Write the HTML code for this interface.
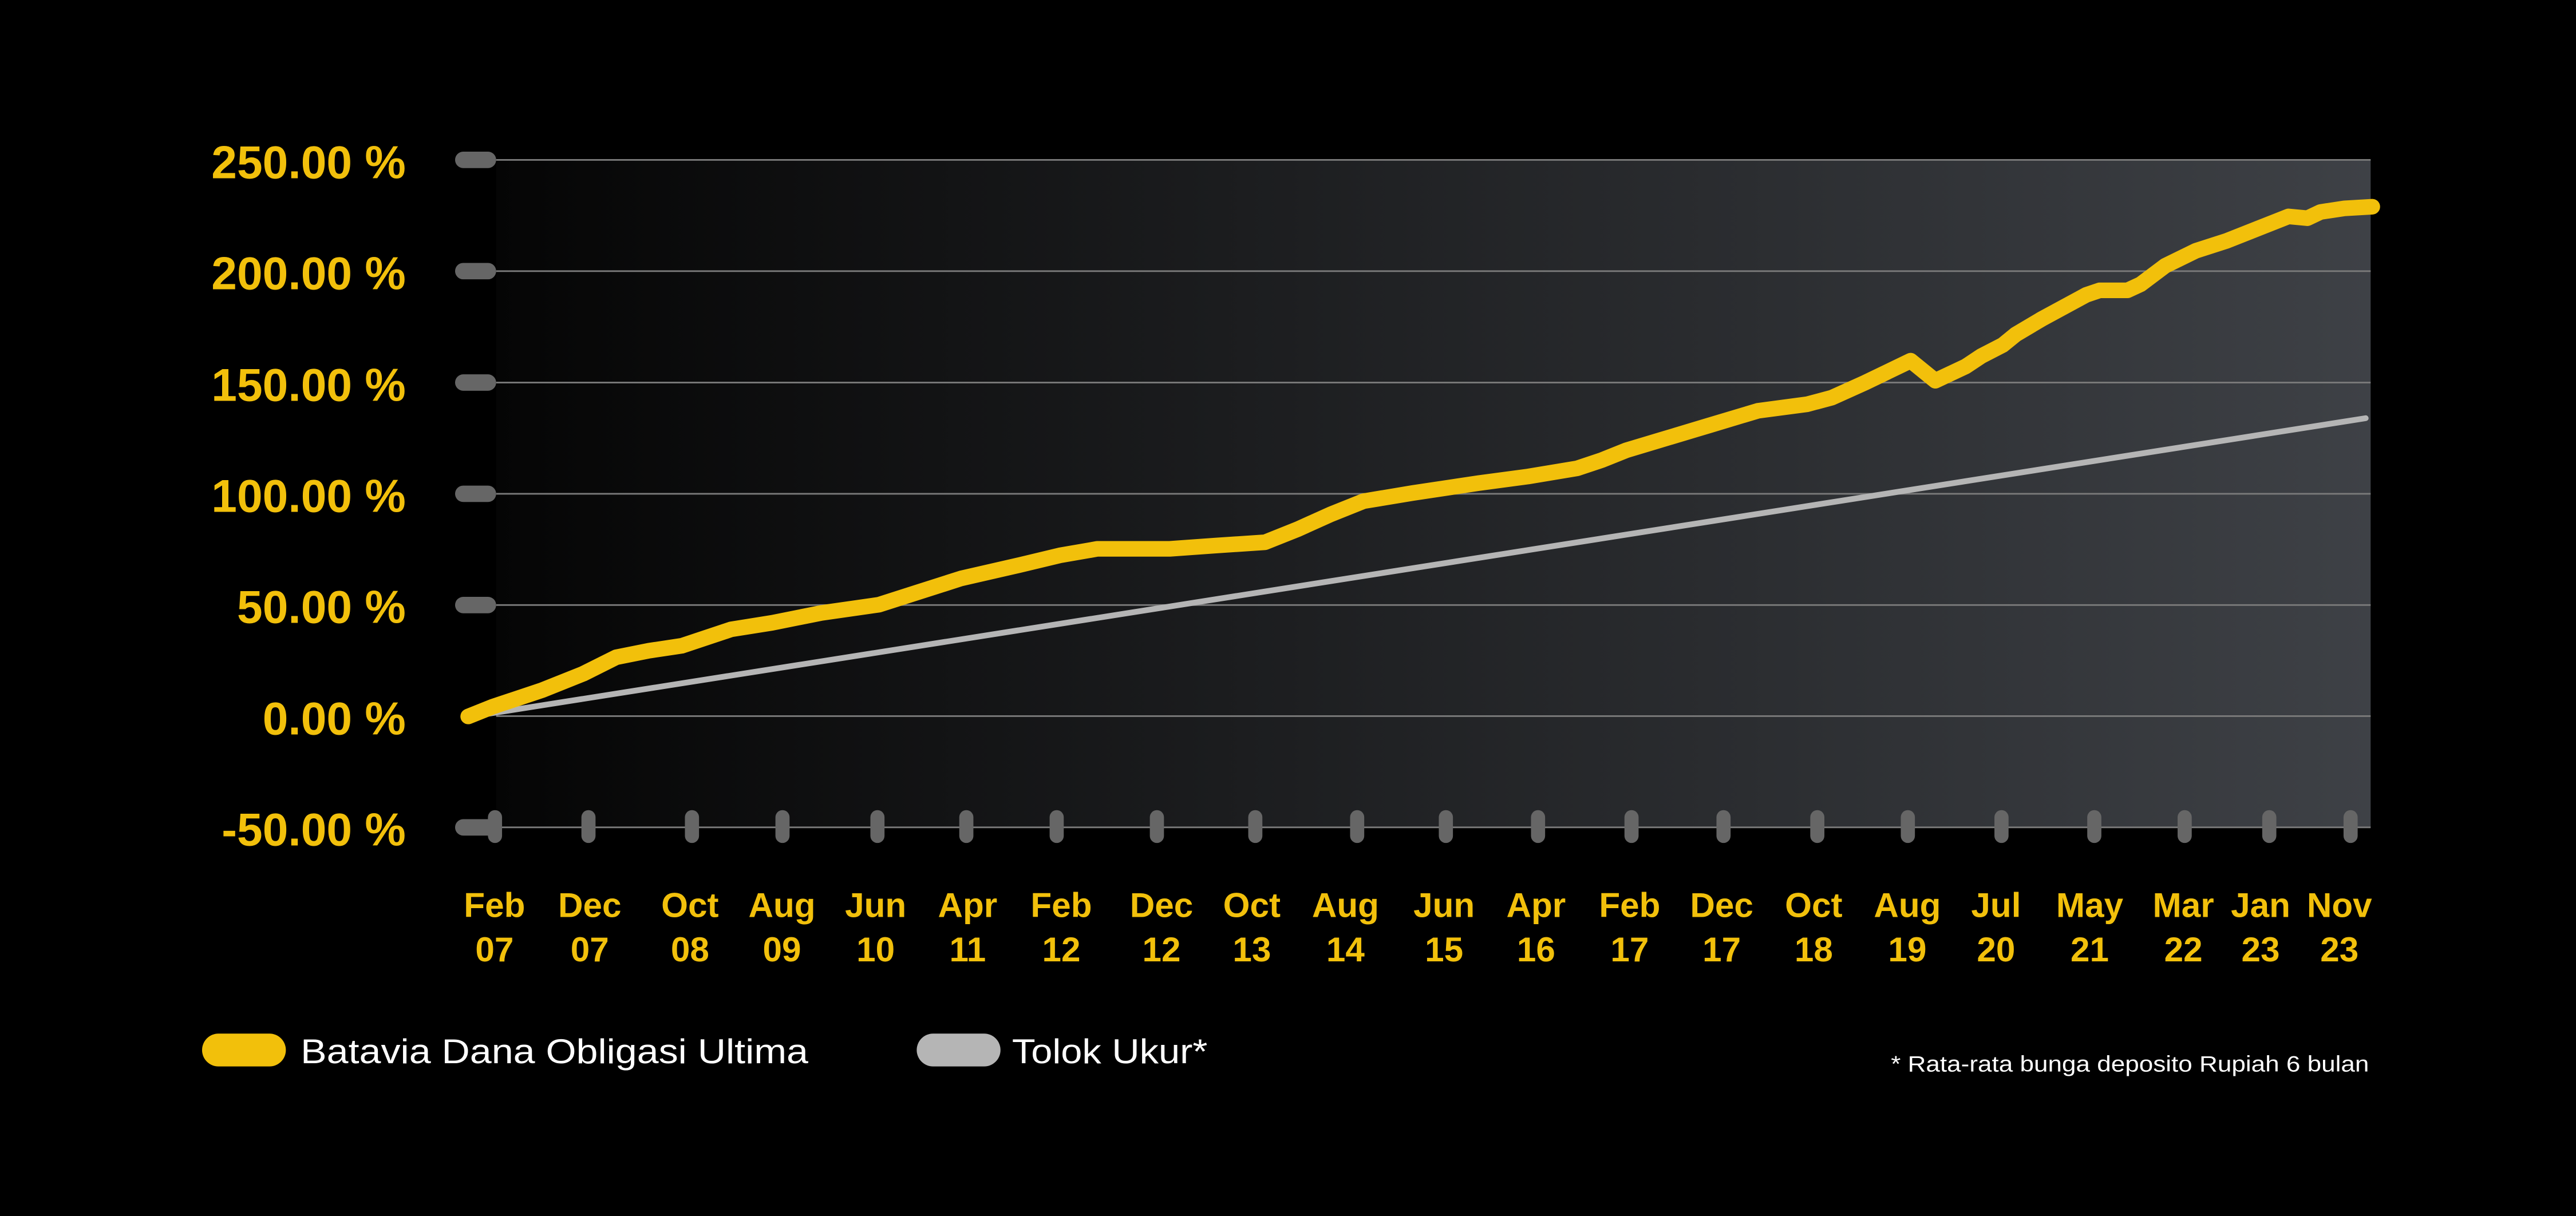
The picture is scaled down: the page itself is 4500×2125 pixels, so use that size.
<!DOCTYPE html>
<html><head><meta charset="utf-8"><style>
html,body{margin:0;padding:0;background:#000;}
svg{display:block;}
text{font-family:"Liberation Sans",sans-serif;}
</style></head><body>
<svg width="4500" height="2125" viewBox="0 0 1568 740" preserveAspectRatio="none" xmlns="http://www.w3.org/2000/svg">
<defs>
<linearGradient id="bg" x1="0" y1="0" x2="1" y2="0">
<stop offset="0" stop-color="#050505"/>
<stop offset="1" stop-color="#3e4146"/>
</linearGradient>
</defs>
<rect width="1568" height="740" fill="#000"/>
<rect x="302" y="97" width="1141" height="406.5" fill="url(#bg)"/>
<g stroke="#7a7a7a" stroke-width="1">
<line x1="302" y1="97.3" x2="1443" y2="97.3"/>
<line x1="302" y1="165" x2="1443" y2="165"/>
<line x1="302" y1="232.8" x2="1443" y2="232.8"/>
<line x1="302" y1="300.5" x2="1443" y2="300.5"/>
<line x1="302" y1="368.2" x2="1443" y2="368.2"/>
<line x1="302" y1="435.8" x2="1443" y2="435.8"/>
<line x1="302" y1="503.5" x2="1443" y2="503.5"/>
</g>
<g fill="#666">
<rect x="277" y="92.3" width="25" height="10" rx="5"/>
<rect x="277" y="160" width="25" height="10" rx="5"/>
<rect x="277" y="227.8" width="25" height="10" rx="5"/>
<rect x="277" y="295.5" width="25" height="10" rx="5"/>
<rect x="277" y="363.2" width="25" height="10" rx="5"/>
<rect x="277" y="498.5" width="25" height="10" rx="5"/>
</g>
<g fill="#666">
<rect x="297" y="493" width="8.6" height="20" rx="4.3"/>
<rect x="353.9" y="493" width="8.6" height="20" rx="4.3"/>
<rect x="416.9" y="493" width="8.6" height="20" rx="4.3"/>
<rect x="472" y="493" width="8.6" height="20" rx="4.3"/>
<rect x="529.8" y="493" width="8.6" height="20" rx="4.3"/>
<rect x="583.9" y="493" width="8.6" height="20" rx="4.3"/>
<rect x="638.9" y="493" width="8.6" height="20" rx="4.3"/>
<rect x="699.9" y="493" width="8.6" height="20" rx="4.3"/>
<rect x="759.8" y="493" width="8.6" height="20" rx="4.3"/>
<rect x="821.8" y="493" width="8.6" height="20" rx="4.3"/>
<rect x="875.8" y="493" width="8.6" height="20" rx="4.3"/>
<rect x="931.9" y="493" width="8.6" height="20" rx="4.3"/>
<rect x="988.8" y="493" width="8.6" height="20" rx="4.3"/>
<rect x="1044.8" y="493" width="8.6" height="20" rx="4.3"/>
<rect x="1101.9" y="493" width="8.6" height="20" rx="4.3"/>
<rect x="1157" y="493" width="8.6" height="20" rx="4.3"/>
<rect x="1214" y="493" width="8.6" height="20" rx="4.3"/>
<rect x="1270.5" y="493" width="8.6" height="20" rx="4.3"/>
<rect x="1325.5" y="493" width="8.6" height="20" rx="4.3"/>
<rect x="1377" y="493" width="8.6" height="20" rx="4.3"/>
<rect x="1426.5" y="493" width="8.6" height="20" rx="4.3"/>
</g>
<g fill="#f2c00b" font-weight="bold" font-size="28" text-anchor="end">
<text x="247" y="108.5">250.00 %</text>
<text x="247" y="176">200.00 %</text>
<text x="247" y="244">150.00 %</text>
<text x="247" y="311.5">100.00 %</text>
<text x="247" y="379">50.00 %</text>
<text x="247" y="447">0.00 %</text>
<text x="247" y="514.5">-50.00 %</text>
</g>
<polyline fill="none" stroke="#b5b5b5" stroke-width="3.5" stroke-linecap="round" points="290,435.5 1440,254.5"/>
<polyline fill="none" stroke="#f2c00b" stroke-width="9.5" stroke-linecap="round" stroke-linejoin="round" points="285,436 300,430 330,420 355,410 375,400 395,396 415,393 430,388 445,383 470,379 500,373 535,368 560,360 585,352 620,344 645,338 668,334 712,334 740,332 770,330 790,322 810,313 830,305 860,300 900,294 930,290 960,285 975,280 990,274 1010,268 1040,259 1070,250 1100,246 1115,242 1135,233 1163,219.5 1178,231.7 1196.5,223 1206,216.7 1219,210 1227,203.5 1243,194 1270,179.4 1278,176.7 1295,176.7 1303,173 1318,161.7 1336.6,152.6 1355,146.7 1393,131.7 1404.5,132.8 1412.5,129 1427,126.8 1444,125.8"/>
<g fill="#f2c00b" font-weight="bold" font-size="21" text-anchor="middle">
<text x="301" y="558">Feb</text><text x="301" y="585">07</text>
<text x="359" y="558">Dec</text><text x="359" y="585">07</text>
<text x="420" y="558">Oct</text><text x="420" y="585">08</text>
<text x="476" y="558">Aug</text><text x="476" y="585">09</text>
<text x="533" y="558">Jun</text><text x="533" y="585">10</text>
<text x="589" y="558">Apr</text><text x="589" y="585">11</text>
<text x="646" y="558">Feb</text><text x="646" y="585">12</text>
<text x="707" y="558">Dec</text><text x="707" y="585">12</text>
<text x="762" y="558">Oct</text><text x="762" y="585">13</text>
<text x="819" y="558">Aug</text><text x="819" y="585">14</text>
<text x="879" y="558">Jun</text><text x="879" y="585">15</text>
<text x="935" y="558">Apr</text><text x="935" y="585">16</text>
<text x="992" y="558">Feb</text><text x="992" y="585">17</text>
<text x="1048" y="558">Dec</text><text x="1048" y="585">17</text>
<text x="1104" y="558">Oct</text><text x="1104" y="585">18</text>
<text x="1161" y="558">Aug</text><text x="1161" y="585">19</text>
<text x="1215" y="558">Jul</text><text x="1215" y="585">20</text>
<text x="1272" y="558">May</text><text x="1272" y="585">21</text>
<text x="1329" y="558">Mar</text><text x="1329" y="585">22</text>
<text x="1376" y="558">Jan</text><text x="1376" y="585">23</text>
<text x="1424" y="558">Nov</text><text x="1424" y="585">23</text>
</g>
<rect x="123" y="629" width="51" height="20" rx="10" fill="#f2c00b"/>
<text x="183" y="647" fill="#fff" font-size="21" textLength="309" lengthAdjust="spacingAndGlyphs">Batavia Dana Obligasi Ultima</text>
<rect x="558" y="629" width="51" height="20" rx="10" fill="#b5b5b5"/>
<text x="616" y="647" fill="#fff" font-size="21" textLength="119" lengthAdjust="spacingAndGlyphs">Tolok Ukur*</text>
<text x="1151" y="652" fill="#fff" font-size="13.5" textLength="291" lengthAdjust="spacingAndGlyphs">* Rata-rata bunga deposito Rupiah 6 bulan</text>
</svg>
</body></html>
